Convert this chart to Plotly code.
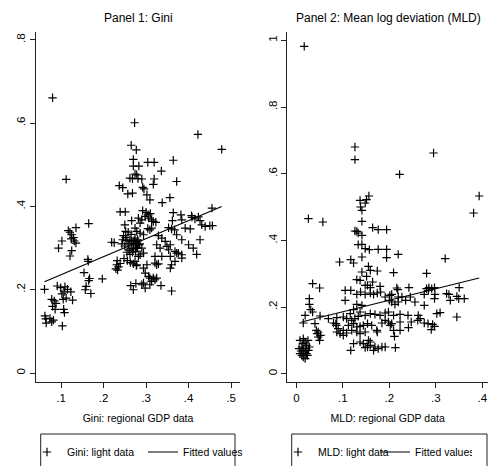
import plotly.graph_objects as go

# ---------------- data ----------------
# Panel 1: Gini  (x = regional GDP data, y = light data)
gini_points = [
    (0.080, 0.661), (0.273, 0.601), (0.422, 0.573), (0.478, 0.537), (0.112, 0.465),
    (0.265, 0.547), (0.277, 0.536), (0.270, 0.513), (0.270, 0.497), (0.283, 0.497),
    (0.304, 0.506), (0.319, 0.506), (0.364, 0.511), (0.336, 0.485), (0.274, 0.478),
    (0.278, 0.476), (0.262, 0.468), (0.268, 0.467), (0.281, 0.467), (0.290, 0.466),
    (0.319, 0.466), (0.372, 0.460), (0.317, 0.453), (0.237, 0.450), (0.245, 0.445),
    (0.292, 0.446), (0.295, 0.442), (0.257, 0.430), (0.268, 0.432), (0.302, 0.428),
    (0.356, 0.421), (0.309, 0.416), (0.338, 0.409), (0.455, 0.396), (0.364, 0.385),
    (0.382, 0.380), (0.407, 0.378), (0.423, 0.375), (0.292, 0.390), (0.300, 0.386),
    (0.305, 0.380), (0.310, 0.383), (0.239, 0.387), (0.251, 0.387), (0.266, 0.366),
    (0.250, 0.356),
    # left / low region
    (0.165, 0.359), (0.135, 0.349), (0.117, 0.342), (0.121, 0.338), (0.125, 0.332),
    (0.129, 0.325), (0.124, 0.322), (0.131, 0.317), (0.102, 0.317), (0.094, 0.300),
    (0.135, 0.312), (0.125, 0.294), (0.121, 0.281), (0.219, 0.314), (0.225, 0.313),
    (0.163, 0.273), (0.164, 0.268), (0.154, 0.241), (0.167, 0.227), (0.165, 0.222),
    (0.197, 0.226), (0.159, 0.208), (0.157, 0.200), (0.170, 0.191), (0.231, 0.260),
    (0.235, 0.255), (0.239, 0.263), (0.229, 0.250), (0.233, 0.247), (0.232, 0.270),
    (0.061, 0.201), (0.091, 0.209), (0.099, 0.205), (0.109, 0.207), (0.115, 0.201),
    (0.123, 0.195), (0.107, 0.195), (0.102, 0.190), (0.078, 0.177), (0.084, 0.173),
    (0.088, 0.167), (0.105, 0.177), (0.112, 0.180), (0.127, 0.175), (0.080, 0.160),
    (0.086, 0.153), (0.106, 0.153), (0.108, 0.145), (0.062, 0.137), (0.074, 0.131),
    (0.082, 0.127), (0.065, 0.120), (0.078, 0.123), (0.064, 0.130), (0.103, 0.113),
    # dense middle cluster
    (0.247, 0.330), (0.252, 0.325), (0.255, 0.318), (0.258, 0.310), (0.262, 0.320),
    (0.266, 0.315), (0.270, 0.310), (0.272, 0.318), (0.275, 0.305), (0.278, 0.312),
    (0.280, 0.320), (0.282, 0.308), (0.270, 0.298), (0.265, 0.300), (0.260, 0.295),
    (0.255, 0.290), (0.262, 0.285), (0.268, 0.290), (0.275, 0.292), (0.280, 0.300),
    (0.285, 0.310), (0.252, 0.340), (0.258, 0.338), (0.265, 0.333), (0.245, 0.320),
    (0.250, 0.305), (0.243, 0.310), (0.263, 0.265), (0.270, 0.262), (0.277, 0.258),
    (0.256, 0.270), (0.248, 0.275), (0.264, 0.210), (0.270, 0.200), (0.276, 0.215),
    # right cluster
    (0.298, 0.376), (0.306, 0.372), (0.313, 0.368), (0.317, 0.364), (0.323, 0.362),
    (0.282, 0.372), (0.290, 0.368), (0.286, 0.360), (0.274, 0.348), (0.278, 0.340),
    (0.286, 0.336), (0.294, 0.332), (0.304, 0.347), (0.309, 0.344), (0.313, 0.348),
    (0.362, 0.366), (0.384, 0.368), (0.408, 0.374), (0.415, 0.370), (0.427, 0.366),
    (0.431, 0.356), (0.439, 0.352), (0.450, 0.354), (0.456, 0.354), (0.353, 0.349),
    (0.360, 0.346), (0.367, 0.344), (0.372, 0.332), (0.392, 0.348), (0.404, 0.346),
    (0.384, 0.320), (0.427, 0.320), (0.400, 0.308), (0.411, 0.300), (0.419, 0.285),
    (0.329, 0.330), (0.337, 0.324), (0.345, 0.316), (0.349, 0.304), (0.357, 0.308),
    (0.353, 0.296), (0.368, 0.292), (0.376, 0.288), (0.384, 0.284), (0.333, 0.300),
    (0.325, 0.308), (0.321, 0.280), (0.337, 0.280), (0.357, 0.280), (0.368, 0.268),
    (0.360, 0.260), (0.357, 0.252), (0.384, 0.276), (0.372, 0.288), (0.274, 0.324),
    (0.280, 0.317), (0.284, 0.308), (0.278, 0.300), (0.290, 0.300), (0.294, 0.288),
    (0.286, 0.284), (0.282, 0.280), (0.274, 0.268), (0.278, 0.260), (0.321, 0.264),
    (0.325, 0.260), (0.329, 0.262), (0.294, 0.252), (0.302, 0.260), (0.298, 0.240),
    (0.306, 0.232), (0.309, 0.228), (0.317, 0.228), (0.321, 0.224), (0.325, 0.228),
    (0.313, 0.220), (0.309, 0.212), (0.294, 0.216), (0.298, 0.204), (0.290, 0.212),
    (0.335, 0.210), (0.360, 0.197),
]
gini_fit_x = [0.061, 0.478]
gini_fit_y = [0.219, 0.400]

# Panel 2: MLD
mld_points = [
    (0.017, 0.982), (0.126, 0.680), (0.295, 0.662), (0.126, 0.642), (0.222, 0.598),
    (0.393, 0.533), (0.381, 0.482),
    (0.156, 0.533), (0.151, 0.522), (0.137, 0.520), (0.148, 0.512), (0.138, 0.500),
    (0.141, 0.490), (0.026, 0.465), (0.057, 0.455), (0.141, 0.457), (0.126, 0.428),
    (0.130, 0.427), (0.133, 0.422), (0.141, 0.415), (0.164, 0.438), (0.176, 0.432),
    (0.194, 0.432), (0.133, 0.387), (0.141, 0.388), (0.148, 0.375), (0.157, 0.372),
    (0.176, 0.373), (0.194, 0.373), (0.141, 0.350), (0.194, 0.348), (0.093, 0.335),
    (0.117, 0.342), (0.123, 0.332), (0.155, 0.322), (0.141, 0.305), (0.159, 0.310),
    (0.174, 0.308), (0.151, 0.292), (0.130, 0.282), (0.137, 0.280), (0.148, 0.265),
    (0.153, 0.265), (0.164, 0.275), (0.159, 0.258), (0.180, 0.262), (0.035, 0.270),
    (0.050, 0.257), (0.105, 0.250), (0.117, 0.250), (0.130, 0.238), (0.138, 0.245),
    (0.148, 0.238), (0.159, 0.242), (0.166, 0.238), (0.174, 0.242), (0.181, 0.245),
    (0.191, 0.230), (0.201, 0.235), (0.028, 0.225), (0.028, 0.208), (0.031, 0.192),
    (0.035, 0.185), (0.019, 0.175), (0.015, 0.152), (0.051, 0.173), (0.069, 0.165),
    (0.087, 0.168), (0.080, 0.152), (0.105, 0.220), (0.130, 0.208), (0.141, 0.205),
    (0.123, 0.192), (0.116, 0.180), (0.137, 0.185), (0.148, 0.175), (0.159, 0.180),
    (0.169, 0.178), (0.180, 0.175), (0.101, 0.170), (0.108, 0.165), (0.119, 0.160),
    (0.126, 0.165), (0.133, 0.172), (0.112, 0.145), (0.123, 0.150), (0.130, 0.140),
    (0.137, 0.142), (0.087, 0.125), (0.094, 0.120), (0.101, 0.115), (0.085, 0.150),
    (0.101, 0.130), (0.108, 0.122), (0.119, 0.130), (0.130, 0.125), (0.137, 0.120),
    (0.148, 0.125), (0.144, 0.145), (0.153, 0.150), (0.162, 0.145), (0.173, 0.130),
    (0.174, 0.125), (0.184, 0.152), (0.047, 0.125), (0.047, 0.110), (0.050, 0.100),
    (0.040, 0.150), (0.043, 0.130), (0.045, 0.120), (0.052, 0.115), (0.086, 0.145),
    (0.090, 0.135), (0.123, 0.090), (0.117, 0.070), (0.137, 0.095), (0.144, 0.090),
    (0.153, 0.080), (0.159, 0.085), (0.169, 0.080), (0.166, 0.070), (0.176, 0.075),
    (0.184, 0.080), (0.155, 0.100), (0.159, 0.095), (0.148, 0.078),
    (0.008, 0.100), (0.015, 0.105), (0.019, 0.095), (0.022, 0.085), (0.012, 0.080),
    (0.015, 0.070), (0.019, 0.065), (0.022, 0.060), (0.008, 0.060), (0.012, 0.055),
    (0.015, 0.050), (0.026, 0.070), (0.028, 0.080), (0.021, 0.075), (0.019, 0.045),
    (0.014, 0.090), (0.006, 0.075), (0.025, 0.100), (0.010, 0.068), (0.024, 0.055),
    (0.219, 0.358), (0.320, 0.345), (0.209, 0.303), (0.280, 0.301), (0.216, 0.257),
    (0.218, 0.252), (0.242, 0.258), (0.280, 0.255), (0.285, 0.258), (0.291, 0.255),
    (0.297, 0.258), (0.284, 0.250), (0.350, 0.258), (0.205, 0.238), (0.219, 0.230),
    (0.227, 0.230), (0.245, 0.230), (0.235, 0.220), (0.219, 0.215), (0.212, 0.208),
    (0.205, 0.215), (0.200, 0.220), (0.275, 0.238), (0.298, 0.238), (0.297, 0.225),
    (0.323, 0.240), (0.328, 0.238), (0.331, 0.220), (0.345, 0.232), (0.349, 0.225),
    (0.361, 0.225), (0.255, 0.215), (0.275, 0.205), (0.302, 0.180), (0.309, 0.183),
    (0.345, 0.170), (0.191, 0.182), (0.198, 0.185), (0.209, 0.175), (0.223, 0.178),
    (0.240, 0.175), (0.262, 0.175), (0.266, 0.165), (0.261, 0.160), (0.191, 0.160),
    (0.198, 0.155), (0.205, 0.150), (0.223, 0.155), (0.247, 0.155), (0.241, 0.138),
    (0.223, 0.130), (0.209, 0.130), (0.202, 0.145), (0.275, 0.152), (0.283, 0.150),
    (0.293, 0.148), (0.297, 0.142), (0.290, 0.132), (0.211, 0.112), (0.213, 0.078),
    (0.191, 0.080),
]
mld_fit_x = [0.011, 0.393]
mld_fit_y = [0.155, 0.287]

gini_x = [p[0] for p in gini_points]
gini_y = [p[1] for p in gini_points]
mld_x = [p[0] for p in mld_points]
mld_y = [p[1] for p in mld_points]

p1_xticks = [0.1, 0.2, 0.3, 0.4, 0.5]
p1_xlabels = [".1", ".2", ".3", ".4", ".5"]
p1_yticks = [0, 0.2, 0.4, 0.6, 0.8]
p1_ylabels = ["0", ".2", ".4", ".6", ".8"]
p2_xticks = [0, 0.1, 0.2, 0.3, 0.4]
p2_xlabels = ["0", ".1", ".2", ".3", ".4"]
p2_yticks = [0, 0.2, 0.4, 0.6, 0.8, 1.0]
p2_ylabels = ["0", ".2", ".4", ".6", ".8", "1"]

# ---------------- figure ----------------
W, H = 496, 466
def px(v):
    return v / W
def py(v):
    return 1 - v / H

FONT = "Liberation Sans, Arial, Helvetica, sans-serif"
marker = dict(symbol="cross-thin", size=6, color="black",
              line=dict(width=1.2, color="black"))
fitline = dict(color="black", width=1.2)

fig = go.Figure()
fig.add_trace(go.Scatter(x=gini_x, y=gini_y, mode="markers", marker=marker,
                         name="Gini: light data", xaxis="x", yaxis="y", legend="legend"))
fig.add_trace(go.Scatter(x=gini_fit_x, y=gini_fit_y, mode="lines", line=fitline,
                         name="Fitted values", xaxis="x", yaxis="y", legend="legend"))
fig.add_trace(go.Scatter(x=mld_x, y=mld_y, mode="markers", marker=marker,
                         name="MLD: light data", xaxis="x2", yaxis="y2", legend="legend2"))
fig.add_trace(go.Scatter(x=mld_fit_x, y=mld_fit_y, mode="lines", line=fitline,
                         name="Fitted values", xaxis="x2", yaxis="y2", legend="legend2"))

axis_style = dict(showline=True, linecolor="#222", linewidth=1, ticks="outside",
                  ticklen=5, tickwidth=1, tickcolor="#222", showgrid=False,
                  zeroline=False, tickfont=dict(size=11.5, color="black"),
                  automargin=False)

fig.update_layout(
    width=W, height=H, margin=dict(l=0, r=0, t=0, b=0, autoexpand=False),
    paper_bgcolor="white", plot_bgcolor="white",
    font=dict(family=FONT, color="black"),
    xaxis=dict(domain=[px(36), px(240)], range=[0.041, 0.521], anchor="y",
               tickvals=p1_xticks, ticktext=p1_xlabels,
               title=dict(text="Gini: regional GDP data", font=dict(size=10.5), standoff=11),
               **axis_style),
    yaxis=dict(domain=[py(382), py(32)], range=[-0.0216, 0.819], anchor="x",
               tickvals=p1_yticks, ticktext=p1_ylabels, tickangle=-90, **axis_style),
    xaxis2=dict(domain=[px(287.3), px(488)], range=[-0.0194, 0.412], anchor="y2",
                tickvals=p2_xticks, ticktext=p2_xlabels,
                title=dict(text="MLD: regional GDP data", font=dict(size=10.5), standoff=11),
                **axis_style),
    yaxis2=dict(domain=[py(382), py(32)], range=[-0.025, 1.025], anchor="x2",
                tickvals=p2_yticks, ticktext=p2_ylabels, tickangle=-90, **axis_style),
    legend=dict(x=px(27), y=py(452), xanchor="left", yanchor="middle",
                orientation="h", bgcolor="rgba(0,0,0,0)", borderwidth=0,
                font=dict(size=10.5), entrywidth=71, entrywidthmode="pixels",
                itemwidth=30),
    legend2=dict(x=px(278), y=py(452), xanchor="left", yanchor="middle",
                 orientation="h", bgcolor="rgba(0,0,0,0)", borderwidth=0,
                 font=dict(size=10.5), entrywidth=52, entrywidthmode="pixels",
                 itemwidth=30),
    showlegend=True,
    annotations=[
        dict(text="Panel 1: Gini", x=px(138), y=py(18), xref="paper", yref="paper",
             showarrow=False, font=dict(size=12), xanchor="center", yanchor="middle"),
        dict(text="Panel 2: Mean log deviation (MLD)", x=px(388), y=py(18),
             xref="paper", yref="paper", showarrow=False, font=dict(size=12),
             xanchor="center", yanchor="middle"),
    ],
    shapes=[
        dict(type="rect", xref="paper", yref="paper", x0=px(40.7), x1=px(235),
             y0=py(434), y1=-0.05, line=dict(color="#222", width=1)),
        dict(type="rect", xref="paper", yref="paper", x0=px(291.7), x1=px(487),
             y0=py(434), y1=-0.05, line=dict(color="#222", width=1)),
    ],
)

fig.write_html("out.html")
